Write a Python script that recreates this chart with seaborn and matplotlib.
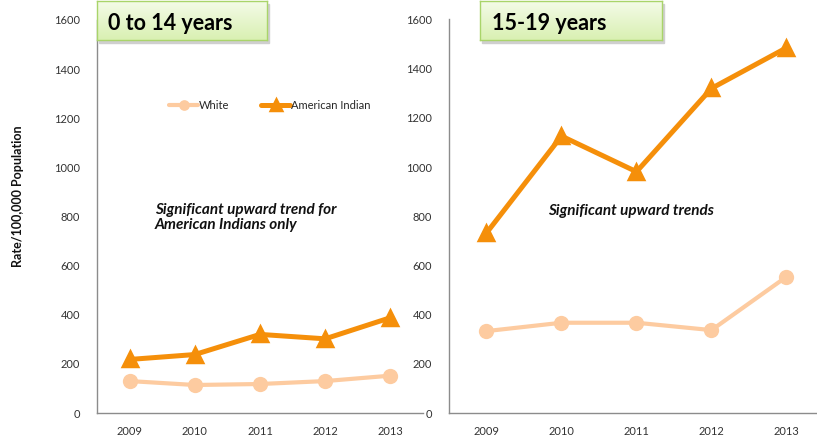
import numpy as np
import pandas as pd
import matplotlib
matplotlib.use("Agg")
import matplotlib.pyplot as plt
import seaborn as sns

# ---------------------------------------------------------------------------
# Data
# ---------------------------------------------------------------------------
years = [2009, 2010, 2011, 2012, 2013]
groups = ["White", "American Indian"]

young_white = [130, 114, 118, 130, 152]
young_ai = [218, 238, 320, 302, 388]

teen_white = [333, 367, 367, 337, 554]
teen_ai = [732, 1126, 981, 1320, 1485]

panel_titles = ["0 to 14 years", "15-19 years"]
notes = ["Significant upward trend for\nAmerican Indians only",
         "Significant upward trends"]
y_ticks = [0, 200, 400, 600, 800, 1000, 1200, 1400, 1600]

WHITE_C = "#FDCBA0"
AI_C = "#F58F0A"

sns.set_theme(style="white")
plt.rcParams["font.family"] = ["Lato", "DejaVu Sans"]


def make_frame(white, ai):
    rows = []
    for yr, w, a in zip(years, white, ai):
        rows.append({"year": yr, "group": "White", "rate": w})
        rows.append({"year": yr, "group": "American Indian", "rate": a})
    return pd.DataFrame(rows)


def draw_panel(ax, df, title_box, title, note, note_xy, show_legend):
    styles = {
        "White": dict(color=WHITE_C, marker="o", markersize=11, linewidth=3.0, mew=0),
        "American Indian": dict(color=AI_C, marker="^", markersize=10.5, linewidth=3.6,
                                mew=2.5, mec=AI_C),
    }
    for g in groups:
        sub = df[df["group"] == g]
        sns.lineplot(data=sub, x="year", y="rate", ax=ax, label=g, **styles[g])

    ax.set_xlim(years[0] - 0.5, years[-1] + 0.5)
    ax.set_ylim(0, 1600)
    ax.set_xticks(years)
    ax.set_yticks(y_ticks)
    ax.set_xlabel("")
    ax.set_ylabel("")
    ax.tick_params(axis="both", length=0, labelsize=8, colors="#333333")
    ax.tick_params(axis="y", pad=12)
    ax.tick_params(axis="x", pad=9)
    for side in ["top", "right"]:
        ax.spines[side].set_visible(False)
    for side in ["left", "bottom"]:
        ax.spines[side].set_color("#8c8c8c")
        ax.spines[side].set_linewidth(1.0)

    ax.text(note_xy[0], note_xy[1], note, transform=ax.transAxes,
            fontsize=11, fontweight="bold", fontstyle="italic",
            color="#111111", va="top", ha="left", linespacing=1.15)

    if show_legend:
        ax.legend(loc="center", bbox_to_anchor=(0.53, 0.782), ncol=2, frameon=False,
                  fontsize=8, handlelength=2.6, columnspacing=2.9, handletextpad=0.05,
                  markerscale=0.7)
    else:
        leg = ax.get_legend()
        if leg:
            leg.remove()

    # green title box with a soft gradient and shadow
    fig = ax.figure
    x0, y0, w, h = title_box
    shadow = plt.Rectangle((x0 + 0.003, y0 - 0.006), w, h, transform=fig.transFigure,
                           color="#cfcfcf", zorder=5)
    fig.patches.append(shadow)
    bax = fig.add_axes([x0, y0, w, h], zorder=6)
    grad = np.linspace(0, 1, 64).reshape(-1, 1)
    cmap = matplotlib.colors.LinearSegmentedColormap.from_list(
        "box", ["#f4fbe8", "#d9f0b2"])
    bax.imshow(grad, aspect="auto", cmap=cmap, extent=[0, 1, 0, 1])
    bax.set_xticks([])
    bax.set_yticks([])
    for s in bax.spines.values():
        s.set_color("#a9d46a")
        s.set_linewidth(1.0)
    bax.text(0.065, 0.42, title, fontsize=15.5, fontweight="bold", color="#000000",
             va="center", ha="left", transform=bax.transAxes)


fig = plt.figure(figsize=(8.17, 4.40), dpi=100)
ax_left = fig.add_axes([97 / 817, 27 / 440, 326 / 817, 393 / 440])
ax_right = fig.add_axes([449 / 817, 27 / 440, 375 / 817, 393.5 / 440])

draw_panel(ax_left, make_frame(young_white, young_ai),
           (97 / 817, 400 / 440, 170 / 817, 39 / 440),
           panel_titles[0], notes[0], (0.178, 0.535), True)
draw_panel(ax_right, make_frame(teen_white, teen_ai),
           (480 / 817, 400 / 440, 182 / 817, 39 / 440),
           panel_titles[1], notes[1], (0.263, 0.53), False)

fig.text(18 / 817, 1 - 196 / 440, "Rate/100,000 Population", rotation=90,
         fontsize=9, fontweight="bold", color="#111111", ha="center", va="center")

fig.savefig("out.png", dpi=100)
